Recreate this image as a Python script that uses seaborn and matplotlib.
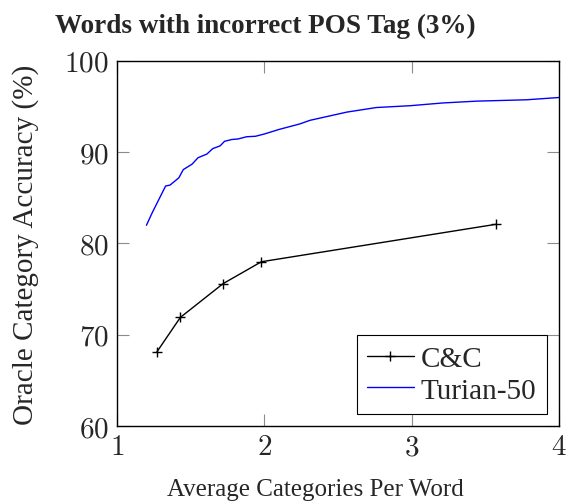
import matplotlib
matplotlib.use('Agg')
import matplotlib.pyplot as plt
import seaborn as sns
import pandas as pd

# Data

cc_x = [1.27, 1.43, 1.72, 1.98, 3.57]
cc_y = [68.1, 71.9, 75.6, 78.0, 82.1]

turian_x = [1.20, 1.24, 1.33, 1.36, 1.42, 1.45, 1.51, 1.55, 1.61, 1.65, 1.70, 1.73,
            1.78, 1.82, 1.88, 1.94, 2.00, 2.10, 2.17, 2.24, 2.31, 2.38, 2.56, 2.76,
            2.99, 3.21, 3.44, 3.78, 4.00]
turian_y = [82.0, 83.4, 86.3, 86.4, 87.2, 88.1, 88.7, 89.4, 89.8, 90.4, 90.7, 91.2,
            91.4, 91.45, 91.7, 91.75, 92.0, 92.5, 92.8, 93.1, 93.5, 93.75, 94.4, 94.9,
            95.1, 95.4, 95.6, 95.75, 96.0]

x_ticks = [1, 2, 3, 4]
y_ticks = [60, 70, 80, 90, 100]

sns.set_style('white')
plt.rcParams['font.family'] = ['Liberation Serif', 'DejaVu Serif']
plt.rcParams['mathtext.fontset'] = 'cm'

fig = plt.figure(figsize=(5.67, 5.02), dpi=100)
ax = fig.add_axes([0.2063, 0.1494, 0.7797, 0.7271])

cc = pd.DataFrame({'x': cc_x, 'y': cc_y})
turian = pd.DataFrame({'x': turian_x, 'y': turian_y})

sns.lineplot(data=cc, x='x', y='y', ax=ax, color='black', lw=1, marker='+',
             markersize=7, markeredgewidth=1, markeredgecolor='black', label='C&C')
sns.lineplot(data=turian, x='x', y='y', ax=ax, color='blue', lw=1, label='Turian-50')

ax.set_xlim(1, 4)
ax.set_ylim(60, 100)
ax.set_xticks(x_ticks)
ax.set_yticks(y_ticks)
ax.set_xticklabels(['$%d$' % v for v in x_ticks], fontsize=21)
ax.set_yticklabels(['$%d$' % v for v in y_ticks], fontsize=21)
ax.tick_params(direction='in', length=8.5, width=0.8, color='#8c8c8c', pad=6,
               top=True, right=True, bottom=True, left=True)

for s in ax.spines.values():
    s.set_color('black')
    s.set_linewidth(1)

ax.set_xlabel('Average Categories Per Word', fontsize=18, labelpad=13)
ax.xaxis.label.set_x(0.448)
ax.set_ylabel('Oracle Category Accuracy (%)', fontsize=21, labelpad=18)
ax.set_title('Words with incorrect POS Tag (3%)', fontsize=19.5, fontweight='bold',
             pad=21, x=0.335)

leg = ax.legend(loc='lower right', fontsize=21, frameon=True, fancybox=False,
                edgecolor='black', framealpha=1, handlelength=1.6,
                borderaxespad=0.42, borderpad=0.35, labelspacing=0.18, handletextpad=0.25)
leg.get_frame().set_linewidth(0.8)

fig.savefig('out.png', dpi=100)
